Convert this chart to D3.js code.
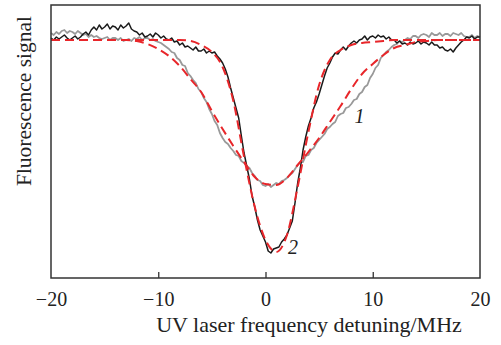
<!DOCTYPE html>
<html>
<head>
<meta charset="utf-8">
<script src="https://cdn.jsdelivr.net/npm/d3@7"></script>
<style>
  body { margin: 0; background: #fff; }
  text { font-family: "Liberation Serif", "DejaVu Serif", serif; fill: #222; }
</style>
</head>
<body>
<div id="chart"></div>
<script>
// detuning grid (MHz)
const xTicks = [-20, -10, 0, 10, 20];
const dataStep = 0.25, fitStep = 1;

// curve 1 (broad, gray) — measured signal, a.u.
const gray1 = [
  245, 243, 246, 244, 247, 248, 245, 247, 246, 244, 247, 245, 243, 244, 241, 243,
  241, 242, 240, 239, 240, 241, 238, 240, 240, 238, 240, 237, 238, 239, 237, 240,
  239, 241, 238, 240, 240, 238, 239, 237, 236, 235, 233, 231, 229, 226, 225, 220,
  218, 213, 212, 205, 202, 198, 195, 189, 186, 180, 176, 169, 164, 157, 153, 145,
  140, 136, 134, 130, 127, 123, 122, 117, 115, 112, 110, 105, 102, 98, 97, 93,
  92, 94, 91, 93, 95, 94, 97, 98, 100, 103, 105, 109, 113, 116, 116, 122,
  123, 128, 130, 135, 138, 141, 144, 149, 151, 154, 156, 162, 164, 165, 170, 171,
  174, 178, 179, 184, 186, 191, 193, 200, 204, 210, 213, 220, 223, 226, 228, 231,
  233, 234, 237, 236, 238, 240, 239, 242, 242, 240, 243, 244, 243, 241, 245, 243,
  243, 245, 242, 244, 244, 242, 245, 244, 243, 245, 242, 241, 241, 243, 240, 242,
  241
];

// curve 2 (narrow, black) — measured signal, a.u.
const black2 = [
  240, 238, 241, 239, 241, 243, 240, 238, 240, 242, 239, 241, 244, 246, 243, 248,
  251, 248, 253, 249, 251, 254, 249, 252, 251, 248, 253, 250, 252, 255, 249, 247,
  246, 243, 245, 241, 242, 244, 241, 245, 243, 240, 242, 239, 238, 240, 236, 237,
  233, 235, 231, 232, 230, 228, 231, 227, 227, 229, 225, 227, 225, 226, 222, 219,
  215, 209, 201, 190, 180, 170, 160, 142, 125, 112, 99, 82, 71, 58, 48, 42,
  36, 27, 25, 29, 30, 31, 36, 39, 43, 50, 57, 75, 95, 110, 128, 141,
  152, 160, 170, 176, 184, 193, 202, 210, 215, 221, 225, 224, 228, 231, 228, 232,
  235, 237, 235, 238, 239, 242, 238, 241, 242, 240, 243, 241, 242, 239, 241, 238,
  238, 235, 237, 234, 235, 233, 236, 234, 235, 237, 234, 236, 235, 233, 236, 233,
  233, 230, 231, 228, 227, 229, 226, 230, 233, 236, 238, 241, 240, 242, 239, 241,
  241
];

// fitted profiles (red dashed), 1 MHz steps from -20 to 20
const fit1 = [
  238, 238, 238, 238, 238, 238, 238, 238, 237, 234, 229, 222, 212, 199, 186, 167,
  149, 132, 116, 101, 94, 93, 100, 113, 126, 140, 156, 172, 189, 204, 214, 223,
  230, 233, 236, 237, 238, 238, 238, 238, 238
];
const fit2 = [
  238, 238, 238, 238, 238, 238, 238, 238, 238, 238, 238, 238, 238, 237, 233, 226,
  211, 177, 121, 71, 38, 26, 43, 91, 146, 193, 218, 228, 233, 235, 236, 237,
  238, 238, 238, 238, 238, 238, 238, 238, 238
];

const width = 501, height = 345;
const margin = {top: 5, right: 21, bottom: 67, left: 51};
const w = width - margin.left - margin.right,
      h = height - margin.top - margin.bottom;

const svg = d3.select("#chart").append("svg")
  .attr("width", width)
  .attr("height", height);
const g = svg.append("g")
  .attr("transform", "translate(" + margin.left + "," + margin.top + ")");

const x = d3.scaleLinear().domain([-20, 20]).range([0, w]);
const y = d3.scaleLinear().domain([0, 273]).range([h, 0]);

const toPts = (vals, step) => vals.map((v, i) => [-20 + i * step, v]);

const line = d3.line().x(d => x(d[0])).y(d => y(d[1]));
const smooth = d3.line().x(d => x(d[0])).y(d => y(d[1])).curve(d3.curveMonotoneX);

// measured curves
g.append("path").datum(toPts(gray1, dataStep))
  .attr("fill", "none").attr("stroke", "#999").attr("stroke-width", 1.8)
  .attr("stroke-linejoin", "round").attr("d", line);
g.append("path").datum(toPts(black2, dataStep))
  .attr("fill", "none").attr("stroke", "#1a1a1a").attr("stroke-width", 1.5)
  .attr("stroke-linejoin", "round").attr("d", line);

// fits
[fit1, fit2].forEach(f => {
  g.append("path").datum(toPts(f, fitStep))
    .attr("fill", "none").attr("stroke", "#e8262a").attr("stroke-width", 2)
    .attr("stroke-dasharray", "9,5").attr("d", smooth);
});

// frame
g.append("rect").attr("width", w).attr("height", h)
  .attr("fill", "none").attr("stroke", "#333").attr("stroke-width", 1.5);

// bottom axis, ticks inward
const xAxis = g.append("g")
  .attr("transform", "translate(0," + h + ")")
  .call(d3.axisBottom(x).tickValues(xTicks).tickSize(-6).tickPadding(14)
    .tickFormat(d => d < 0 ? "\u2212" + Math.abs(d) : d));
xAxis.select(".domain").remove();
xAxis.selectAll("line").attr("stroke", "#333").attr("stroke-width", 1.3)
  .filter(d => Math.abs(d) === 20).remove();
xAxis.selectAll("text").attr("font-size", 20)
  .attr("font-family", "Liberation Serif").attr("fill", "#222");

// axis titles
svg.append("text")
  .attr("x", 309).attr("y", 332)
  .attr("text-anchor", "middle").attr("font-size", 22)
  .text("UV laser frequency detuning/MHz");
svg.append("text")
  .attr("transform", "translate(31,101) rotate(-90)")
  .attr("text-anchor", "middle").attr("font-size", 21.5)
  .text("Fluorescence signal");

// curve labels
g.append("text").attr("x", x(8.3)).attr("y", y(155))
  .attr("font-size", 20).attr("font-style", "italic").text("1");
g.append("text").attr("x", x(2.1)).attr("y", y(24))
  .attr("font-size", 20).attr("font-style", "italic").text("2");
</script>
</body>
</html>
